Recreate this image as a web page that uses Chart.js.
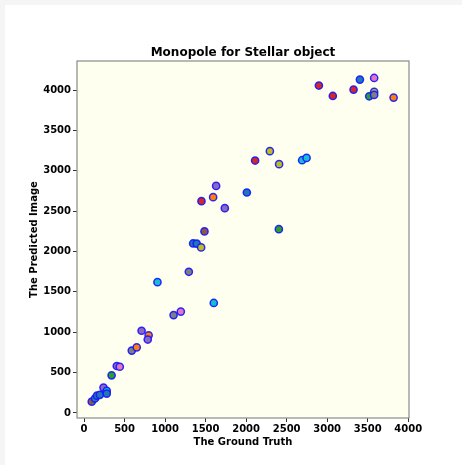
<!DOCTYPE html>
<html>
<head>
<meta charset="utf-8">
<script src="https://cdn.jsdelivr.net/npm/chart.js@4"></script>
<style>
  html, body { margin: 0; padding: 0; background: #f5f5f5; width: 462px; height: 465px; overflow: hidden; }
  #wrap { position: absolute; left: 5px; top: 5px; width: 470px; height: 470px; background: #ffffff; }
  canvas { display: block; }
</style>
</head>
<body>
<div id="wrap"><canvas id="c" width="457" height="460"></canvas></div>
<script>
const titleText = 'Monopole for Stellar object';
const xTitle = 'The Ground Truth';
const yTitle = 'The Predicted Image';

const groundTruth = [95, 135, 160, 195, 240, 280, 280, 340, 404, 441, 589, 650, 710, 797, 786, 906, 1105, 1194, 1293, 1601, 1346, 1390, 1445, 1449, 1486, 1593, 1630, 1737, 2009, 2404, 2111, 2293, 2407, 2691, 2746, 2898, 3070, 3326, 3404, 3580, 3519, 3580, 3580, 3820];
const predicted   = [140, 180, 215, 225, 315, 275, 240, 466, 582, 573, 773, 813, 1019, 963, 910, 1621, 1213, 1256, 1749, 1363, 2100, 2098, 2051, 2624, 2249, 2673, 2813, 2537, 2731, 2277, 3127, 3243, 3082, 3131, 3160, 4056, 3927, 4006, 4130, 4150, 3923, 3977, 3940, 3907];
const pointClass  = ['brown', 'blue', 'blue', 'blue', 'purple', 'cyan', 'blue', 'green', 'purple', 'pink', 'gray', 'orange', 'purple', 'orange', 'purple', 'cyan', 'gray', 'pink', 'gray', 'cyan', 'blue', 'blue', 'olive', 'red', 'brown', 'orange', 'purple', 'purple', 'blue', 'green', 'red', 'olive', 'olive', 'cyan', 'cyan', 'red', 'red', 'red', 'blue', 'pink', 'green', 'olive', 'gray', 'orange'];
const xTicks = [0, 500, 1000, 1500, 2000, 2500, 3000, 3500, 4000];
const yTicks = [0, 500, 1000, 1500, 2000, 2500, 3000, 3500, 4000];

const palette = {
  blue: '#1f77b4', orange: '#ff7f0e', green: '#2ca02c', red: '#d62728', purple: '#9467bd',
  brown: '#8c564b', pink: '#e377c2', gray: '#7f7f7f', olive: '#bcbd22', cyan: '#17becf'
};

const points = groundTruth.map((x, i) => ({ x: x, y: predicted[i] }));
const fills = pointClass.map(c => palette[c]);

const FONT = "'DejaVu Sans', sans-serif";

const framePlugin = {
  id: 'frame',
  beforeDatasetsDraw(chart) {
    const { ctx, chartArea: a } = chart;
    ctx.save();
    ctx.fillStyle = '#fffff0';
    ctx.fillRect(a.left, a.top, a.right - a.left, a.bottom - a.top);
    ctx.restore();
  },
  afterDraw(chart) {
    const { ctx, chartArea: a } = chart;
    ctx.save();
    ctx.strokeStyle = '#8a8a8a';
    ctx.lineWidth = 1.2;
    ctx.strokeRect(a.left, a.top, a.right - a.left, a.bottom - a.top);
    ctx.fillStyle = '#000';
    ctx.font = 'bold 12px ' + FONT;
    ctx.textAlign = 'center';
    ctx.textBaseline = 'middle';
    ctx.fillText(titleText, (a.left + a.right) / 2, 48);
    ctx.restore();
  }
};

new Chart(document.getElementById('c'), {
  type: 'scatter',
  data: {
    datasets: [{
      data: points,
      backgroundColor: fills,
      borderColor: 'rgba(20,20,255,0.9)',
      borderWidth: 1.5,
      pointRadius: 3.6,
      pointHoverRadius: 3.6
    }]
  },
  options: {
    responsive: false,
    animation: false,
    layout: { padding: { left: 0, top: 56, right: 53, bottom: 0 } },
    plugins: { legend: { display: false }, tooltip: { enabled: false }, title: { display: false } },
    scales: {
      x: {
        type: 'linear',
        min: -87, max: 4010,
        afterFit(s) { s.height = 47; },
        afterBuildTicks(s) { s.ticks = xTicks.map(v => ({ value: v })); },
        ticks: { font: { family: FONT, size: 10, weight: 'bold' }, color: '#000', padding: 1, maxRotation: 0, includeBounds: false, callback: v => String(v) },
        grid: { drawOnChartArea: false, drawTicks: true, tickLength: 4, color: '#333', tickWidth: 1 },
        border: { display: false },
        title: { display: true, text: xTitle, color: '#000', font: { family: FONT, size: 10, weight: 'bold' }, padding: { top: 0, bottom: 17 } }
      },
      y: {
        type: 'linear',
        min: -62, max: 4360,
        afterFit(s) { s.width = 72; },
        afterBuildTicks(s) { s.ticks = yTicks.map(v => ({ value: v })); },
        ticks: { font: { family: FONT, size: 10, weight: 'bold' }, color: '#000', padding: 2, includeBounds: false, callback: v => String(v) },
        grid: { drawOnChartArea: false, drawTicks: true, tickLength: 4, color: '#333', tickWidth: 1 },
        border: { display: false },
        title: { display: true, text: yTitle, color: '#000', font: { family: FONT, size: 10, weight: 'bold' }, padding: { top: 23, bottom: 0 } }
      }
    }
  },
  plugins: [framePlugin]
});
</script>
</body>
</html>
